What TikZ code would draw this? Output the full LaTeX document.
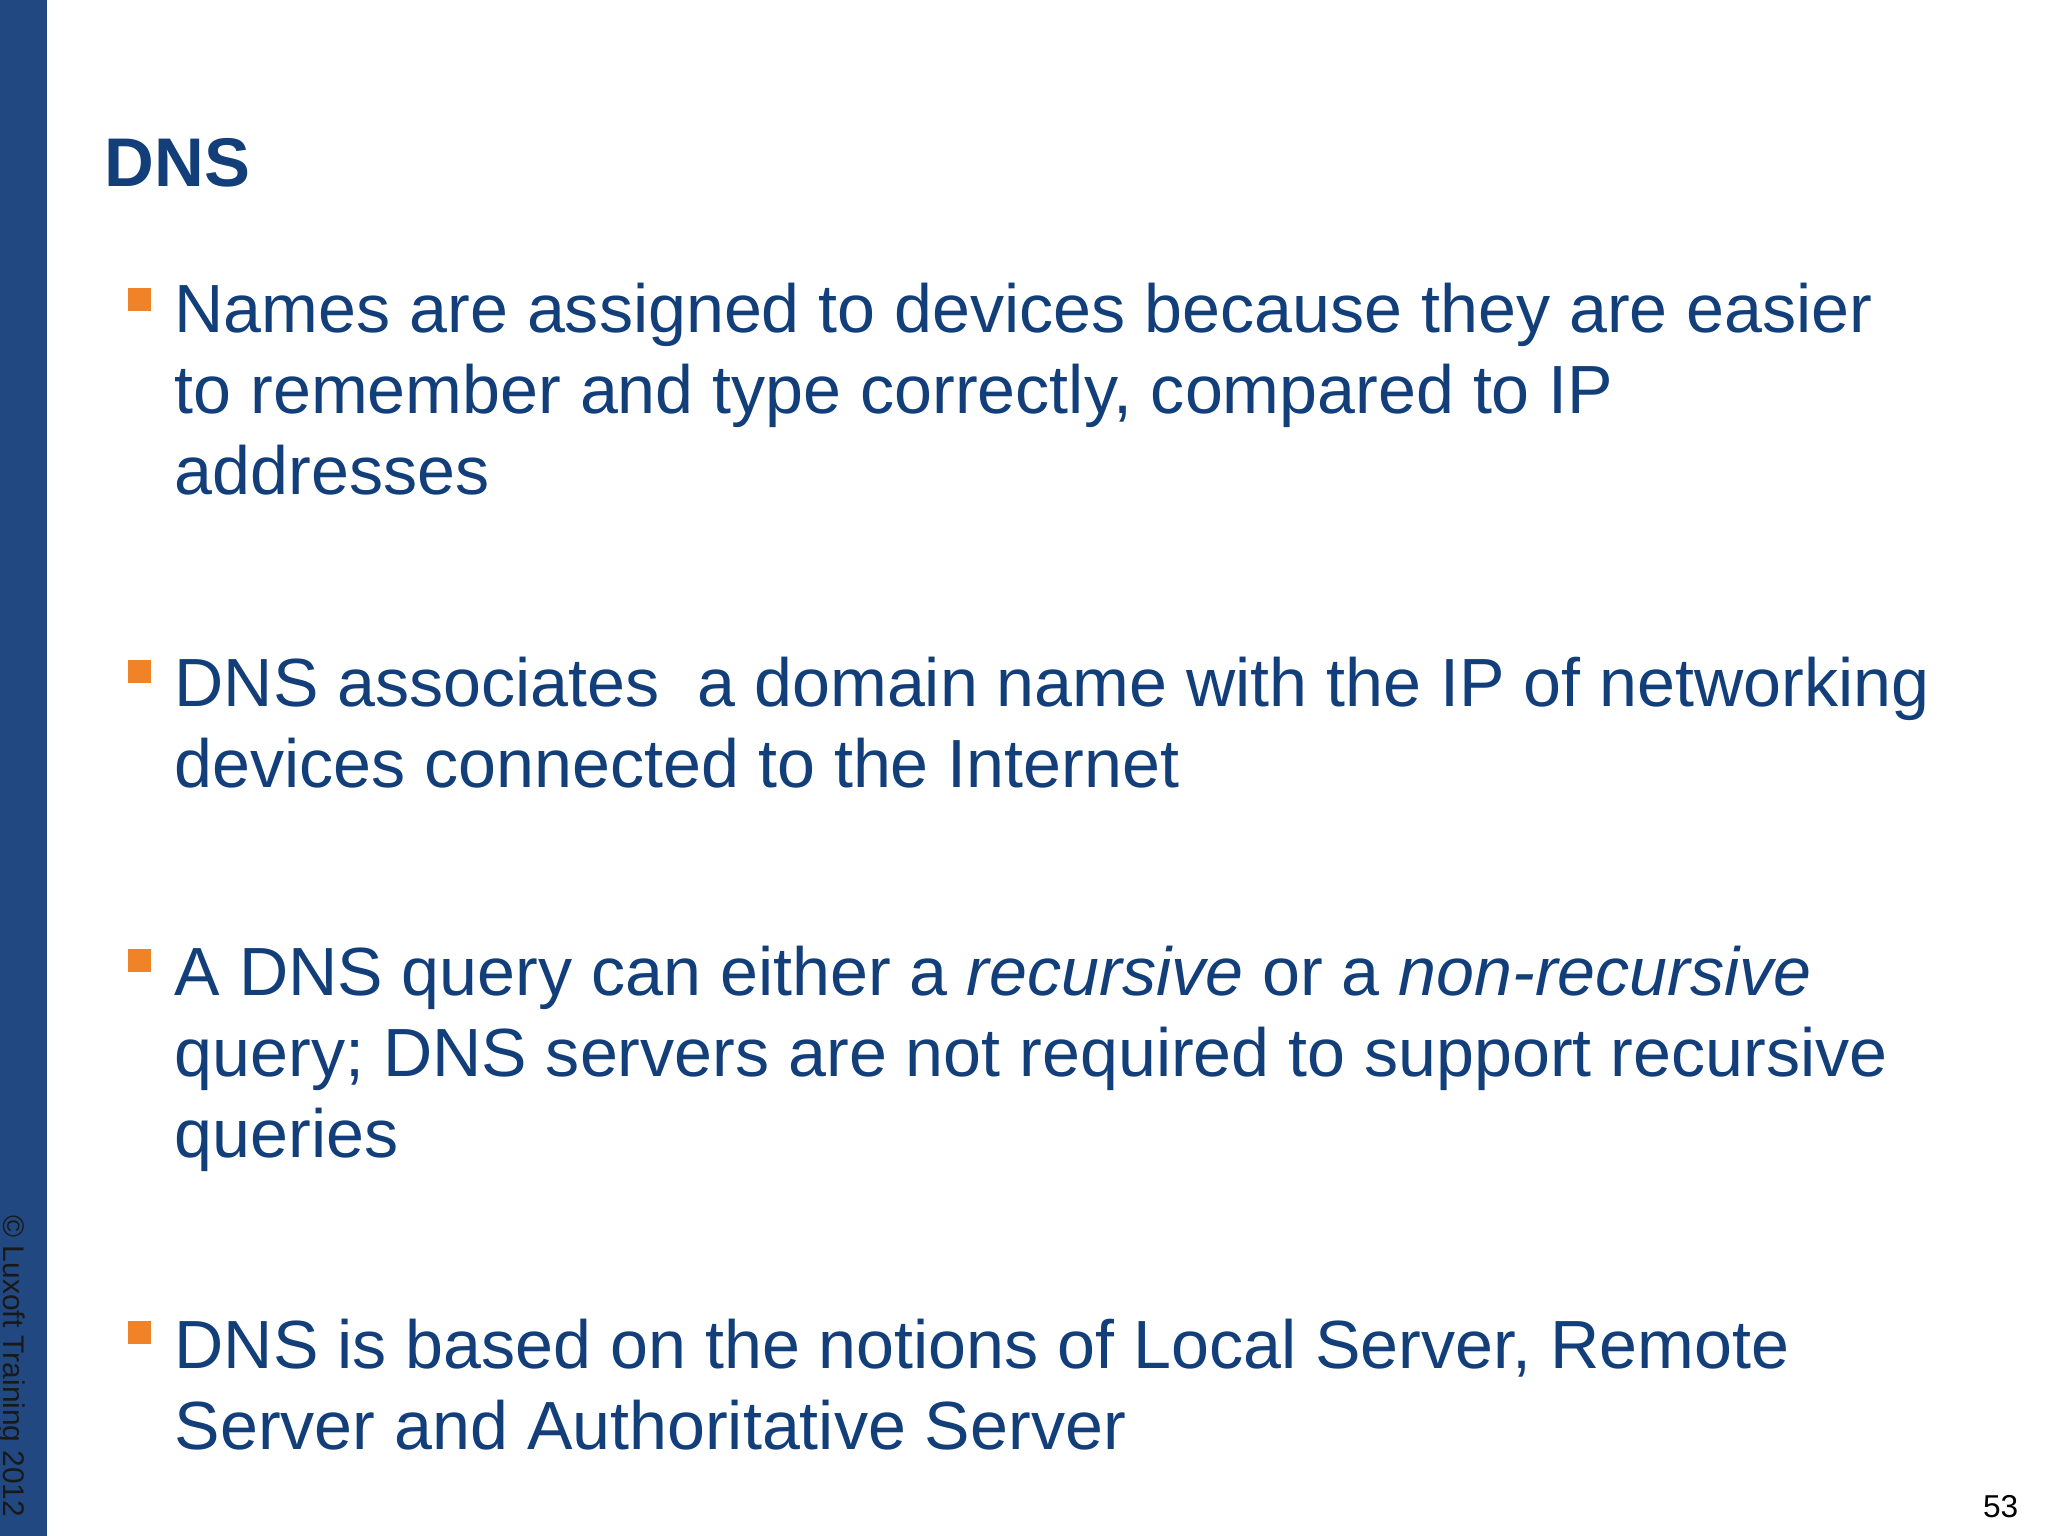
\documentclass[tikz,border=0pt]{standalone}
\usepackage{fontspec}
\setmainfont{Liberation Sans}
\definecolor{barblue}{RGB}{33,72,128}
\definecolor{txtblue}{RGB}{18,62,122}
\definecolor{bulor}{RGB}{240,130,40}
\tikzset{ln/.style={anchor=base west,inner sep=0pt,text=txtblue,font=\fontsize{19.4pt}{23pt}\selectfont},
bul/.style={fill=bulor,minimum size=0.23cm,inner sep=0pt,anchor=north west}}
\begin{document}
\begin{tikzpicture}[x=1cm,y=1cm]
\useasboundingbox (0,0) rectangle (20.48,15.36);
\fill[white] (0,0) rectangle (20.48,15.36);
\fill[barblue] (0,0) rectangle (0.47,15.36);
\begin{scope}
\clip (0,0) rectangle (20.48,15.36);
\node[rotate=-90,anchor=base west,inner sep=0pt,text=black!90,font=\fontsize{8.5pt}{10pt}\selectfont] (copy) at (0.03,3.21) {© Luxoft Training 2012};
\end{scope}
\node[anchor=base west,inner sep=0pt,text=txtblue,font=\bfseries\fontsize{19.6pt}{24pt}\selectfont] (title) at (1.04,13.49) {DNS};
\node[bul] (b1) at (1.27,12.49) {};
\node[ln] (l1) at (1.74,12.03) {Names are assigned to devices because they are easier};
\node[ln] (l2) at (1.74,11.22) {to remember and type correctly, compared to IP};
\node[ln] (l3) at (1.74,10.41) {addresses};
\node[bul] (b2) at (1.27,8.77) {};
\node[ln] (l4) at (1.74,8.29) {DNS associates\ \ a domain name with the IP of networking};
\node[ln] (l5) at (1.74,7.48) {devices connected to the Internet};
\node[bul] (b3) at (1.27,5.88) {};
\node[ln] (l6) at (1.74,5.40) {A DNS query can either a \textit{recursive} or a \textit{non-recursive}};
\node[ln] (l7) at (1.74,4.59) {query; DNS servers are not required to support recursive};
\node[ln] (l8) at (1.74,3.78) {queries};
\node[bul] (b4) at (1.27,2.16) {};
\node[ln] (l9) at (1.74,1.67) {DNS is based on the notions of Local Server, Remote};
\node[ln] (l10) at (1.74,0.86) {Server and Authoritative Server};
\node[anchor=base east,inner sep=0pt,font=\fontsize{9pt}{10pt}\selectfont] (pg) at (20.19,0.18) {53};
\end{tikzpicture}
\end{document}
